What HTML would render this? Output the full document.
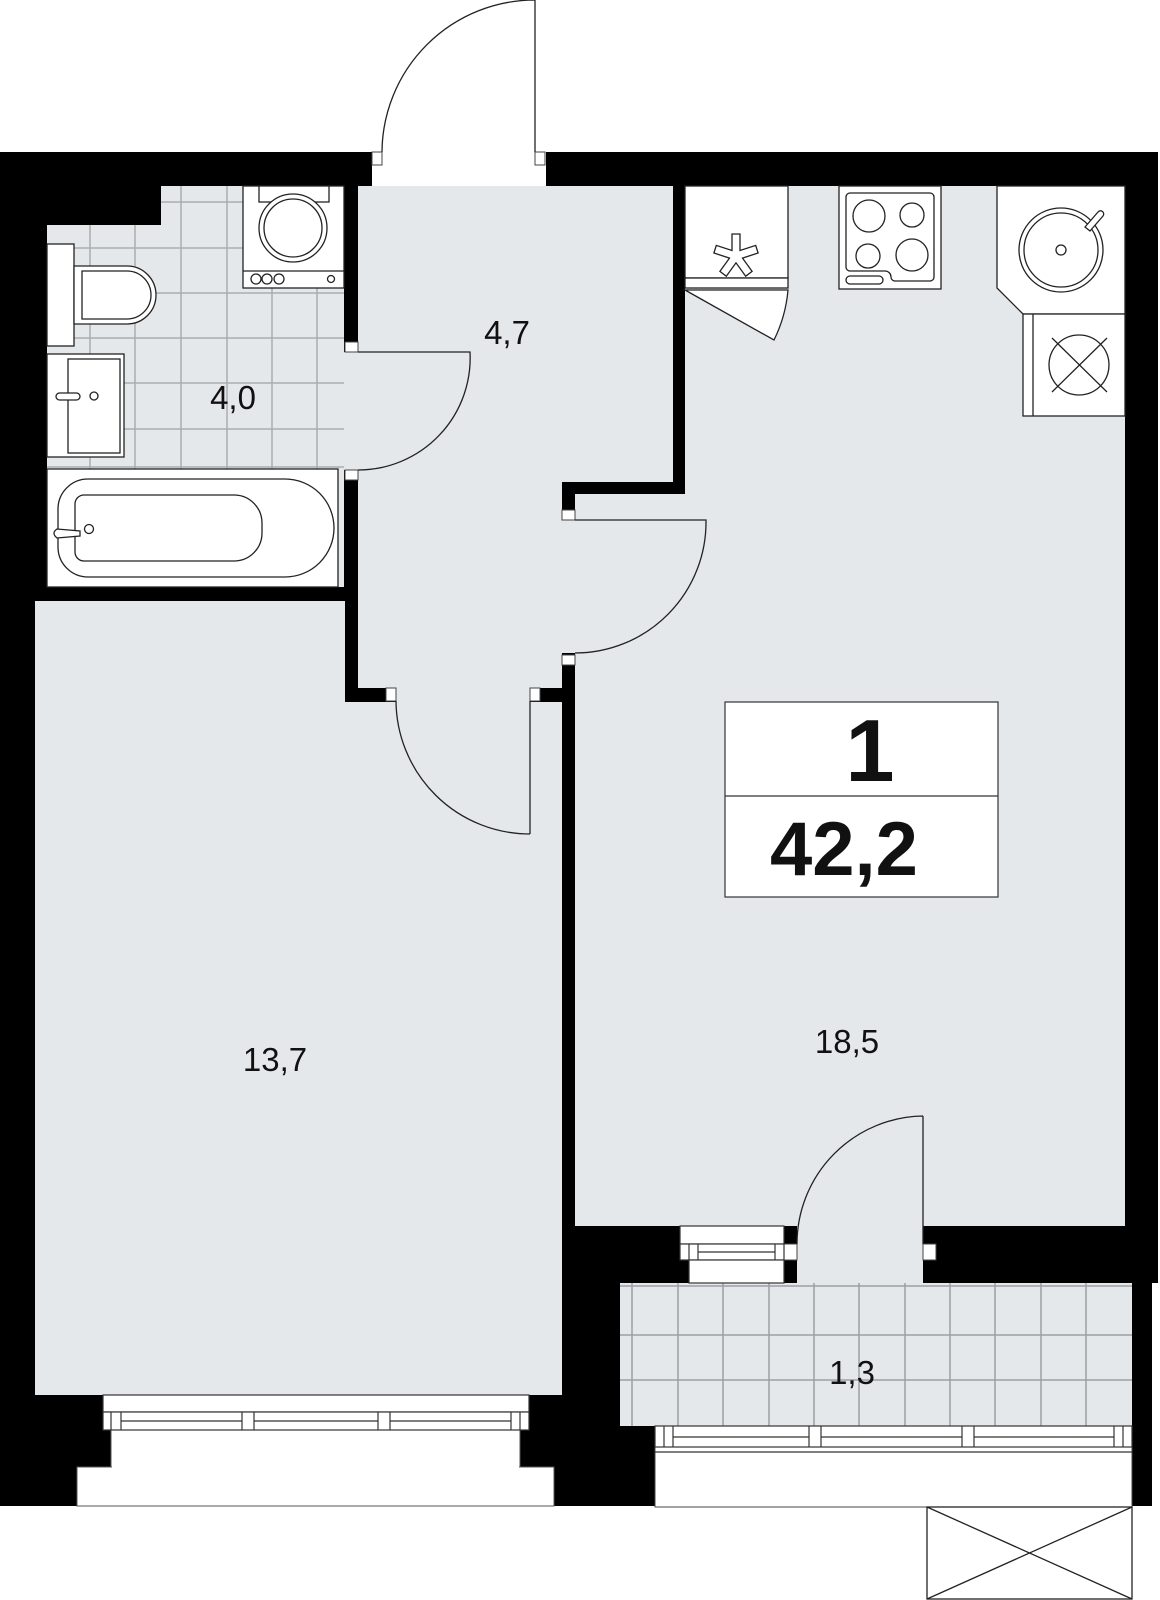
<!DOCTYPE html>
<html><head><meta charset="utf-8"><style>
html,body{margin:0;padding:0;background:#fff}
svg{display:block}
text{font-family:"Liberation Sans",sans-serif;fill:#111}
</style></head><body>
<svg width="1160" height="1600" viewBox="0 0 1160 1600" xmlns="http://www.w3.org/2000/svg">
<rect width="1160" height="1600" fill="#fff"/>
<rect x="0" y="152" width="1158" height="1354" fill="#000"/>
<rect x="1152" y="1283" width="8" height="230" fill="#fff"/>
<rect x="372" y="150" width="174" height="38" fill="#fff"/>
<rect x="111" y="1430" width="409" height="40" fill="#fff" stroke="#555" stroke-width="1"/>
<rect x="77" y="1467" width="477" height="39" fill="#fff" stroke="#555" stroke-width="1"/>
<rect x="112" y="1431" width="407" height="38" fill="#fff"/>
<rect x="655" y="1447" width="477" height="60" fill="#fff" stroke="#444" stroke-width="1"/>

<g fill="#e5e8eb">
<polygon points="161,186 344,186 344,587 47,587 47,225 161,225"/>
<polygon points="358,186 673,186 673,482 562,482 562,688 358,688"/>
<rect x="344" y="352" width="14" height="118"/>
<polygon points="35,601 345,601 345,702 562,702 562,1395 35,1395"/>
<rect x="396" y="686" width="134" height="18"/>
<polygon points="685,186 1125,186 1125,1226 575,1226 575,494 685,494"/>
<rect x="560" y="520" width="17" height="133"/>
<rect x="797" y="1224" width="126" height="60"/>
<rect x="620" y="1283" width="512" height="143"/>
</g>

<g stroke="#9a9ea3" stroke-width="1.5" opacity="0.8">
<line x1="90" y1="225" x2="90" y2="587"/><line x1="135" y1="225" x2="135" y2="587"/>
<line x1="181" y1="186" x2="181" y2="587"/><line x1="227" y1="186" x2="227" y2="587"/>
<line x1="272" y1="186" x2="272" y2="587"/><line x1="317" y1="186" x2="317" y2="587"/>
<line x1="161" y1="202" x2="344" y2="202"/><line x1="47" y1="248" x2="344" y2="248"/>
<line x1="47" y1="293" x2="344" y2="293"/><line x1="47" y1="338" x2="344" y2="338"/>
<line x1="47" y1="383" x2="344" y2="383"/><line x1="47" y1="429" x2="344" y2="429"/>
<line x1="47" y1="467" x2="344" y2="467"/>
</g>
<g stroke="#8a8e93" stroke-width="1.5" opacity="0.8">
<line x1="632" y1="1283" x2="632" y2="1426"/><line x1="678" y1="1283" x2="678" y2="1426"/>
<line x1="723" y1="1283" x2="723" y2="1426"/><line x1="769" y1="1283" x2="769" y2="1426"/>
<line x1="814" y1="1283" x2="814" y2="1426"/><line x1="859" y1="1283" x2="859" y2="1426"/>
<line x1="905" y1="1283" x2="905" y2="1426"/><line x1="950" y1="1283" x2="950" y2="1426"/>
<line x1="995" y1="1283" x2="995" y2="1426"/><line x1="1041" y1="1283" x2="1041" y2="1426"/>
<line x1="1086" y1="1283" x2="1086" y2="1426"/>
<line x1="620" y1="1286" x2="1132" y2="1286"/>
<line x1="620" y1="1335" x2="1132" y2="1335"/><line x1="620" y1="1380" x2="1132" y2="1380"/>
</g>

<g fill="#fff" stroke="#222" stroke-width="1.3">
<rect x="243" y="186" width="101" height="102"/>
<rect x="259" y="186" width="70" height="16"/>
<circle cx="293" cy="228" r="34"/><circle cx="293" cy="228" r="29"/>
<line x1="243" y1="271" x2="344" y2="271"/>
<circle cx="256" cy="279" r="5"/><circle cx="267" cy="279" r="5"/><circle cx="279" cy="279" r="5"/><circle cx="331" cy="279" r="3.5"/>
<rect x="47" y="244" width="27" height="102"/>
<path d="M74,266 H127 A29,29 0 0 1 127,324 H74 Z"/>
<path d="M82,271 H127 A24,24 0 0 1 127,319 H82 Z"/>
<rect x="47" y="354" width="77" height="103"/>
<rect x="68" y="359" width="52" height="94"/>
<rect x="56" y="393" width="24" height="7" rx="3.5"/>
<circle cx="94" cy="396" r="4"/>
<rect x="47" y="469" width="291" height="118"/>
<path d="M88,479 H285 A49,49 0 0 1 285,577 H88 A30,30 0 0 1 58,547 V509 A30,30 0 0 1 88,479 Z"/>
<path d="M84,495 H235 A28,28 0 0 1 262,523 V533 A28,28 0 0 1 235,561 H84 A9,9 0 0 1 75,552 V504 A9,9 0 0 1 84,495 Z"/>
<path d="M57,529 Q51,533 57,538 L80,536 V531 Z"/>
<circle cx="89" cy="529" r="4.5"/>
<rect x="685" y="186" width="103" height="92"/>
<rect x="685" y="278" width="103" height="10"/>
<path d="M685,290 L774,340 A140,140 0 0 0 788,290 Z"/>
<polygon points="732,234 740,234 740,250.5 755.7,245.4 758.1,253 742.5,258.1 752.1,271.4 745.7,276.2 736,262.8 726.3,276.2 719.9,271.4 729.5,258.1 713.9,253 716.3,245.4 732,250.5"/>
<rect x="839" y="186" width="102" height="103"/>
<path d="M850,193 H930 A4,4 0 0 1 934,197 V277 A4,4 0 0 1 930,281 H895 A4,4 0 0 1 891,277 A6,6 0 0 0 885,271 H850 A4,4 0 0 1 846,267 V197 A4,4 0 0 1 850,193 Z"/>
<circle cx="869" cy="216" r="16"/><circle cx="912" cy="215" r="12"/>
<circle cx="868" cy="256" r="12"/><circle cx="912" cy="255" r="16"/>
<rect x="846" y="276" width="37" height="8" rx="4"/>
<polygon points="997,186 1125,186 1125,314 1023,314 997,288"/>
<circle cx="1061" cy="250" r="42"/><circle cx="1061" cy="250" r="37"/>
<circle cx="1061" cy="250" r="5"/>
<path d="M1085,227 L1098,212 A3,3 0 0 1 1103,216 L1090,231 Z"/>
<rect x="1023" y="314" width="102" height="102"/>
<line x1="1033" y1="314" x2="1033" y2="416"/>
<circle cx="1079" cy="365" r="30"/>
<line x1="1052" y1="338" x2="1107" y2="392"/><line x1="1107" y1="338" x2="1052" y2="392"/>
</g>

<g fill="#fff" stroke="#444" stroke-width="1">
<rect x="372" y="152" width="10" height="13"/><rect x="535" y="152" width="10" height="13"/>
<rect x="345" y="342" width="13" height="10"/><rect x="345" y="470" width="13" height="10"/>
<rect x="386" y="688" width="10" height="13"/><rect x="530" y="688" width="10" height="13"/>
<rect x="562" y="510" width="13" height="10"/><rect x="562" y="655" width="13" height="10"/>
<rect x="784" y="1244" width="13" height="16"/><rect x="923" y="1244" width="13" height="16"/>
</g>
<g fill="none" stroke="#222" stroke-width="1.3">
<path d="M535,152 V0 M382,152 A153,153 0 0 1 535,0"/>
<path d="M358,352 H470 A112,112 0 0 1 358,470"/>
<path d="M530,701 V834 M396,701 A134,134 0 0 0 530,834"/>
<path d="M575,520 H706 A131,131 0 0 1 575,653"/>
<path d="M923,1244 V1116 M797,1244 A128,128 0 0 1 923,1116"/>
</g>

<g fill="#fff" stroke="#333" stroke-width="1.2">
<rect x="680" y="1226" width="104" height="18"/>
<rect x="680" y="1244" width="104" height="16"/>
<rect x="689" y="1260" width="95" height="23"/>
<line x1="689" y1="1244" x2="689" y2="1260"/><line x1="698" y1="1244" x2="698" y2="1260"/>
<line x1="775" y1="1244" x2="775" y2="1260"/><line x1="698" y1="1252" x2="775" y2="1252"/>
</g>
<g fill="#fff" stroke="#333" stroke-width="1.2">
<rect x="103" y="1395" width="426" height="17"/>
<rect x="103" y="1412" width="426" height="18"/>
<line x1="111" y1="1412" x2="111" y2="1430"/><line x1="121" y1="1412" x2="121" y2="1430"/>
<line x1="242" y1="1412" x2="242" y2="1430"/><line x1="254" y1="1412" x2="254" y2="1430"/>
<line x1="378" y1="1412" x2="378" y2="1430"/><line x1="390" y1="1412" x2="390" y2="1430"/>
<line x1="511" y1="1412" x2="511" y2="1430"/><line x1="520" y1="1412" x2="520" y2="1430"/>
<line x1="121" y1="1421" x2="242" y2="1421"/><line x1="254" y1="1421" x2="378" y2="1421"/><line x1="390" y1="1421" x2="511" y2="1421"/>
</g>
<g fill="#fff" stroke="#333" stroke-width="1.2">
<rect x="655" y="1426" width="477" height="21"/>
<line x1="655" y1="1452" x2="1132" y2="1452"/>
<line x1="664" y1="1426" x2="664" y2="1447"/><line x1="673" y1="1426" x2="673" y2="1447"/>
<line x1="809" y1="1426" x2="809" y2="1447"/><line x1="821" y1="1426" x2="821" y2="1447"/>
<line x1="962" y1="1426" x2="962" y2="1447"/><line x1="974" y1="1426" x2="974" y2="1447"/>
<line x1="1114" y1="1426" x2="1114" y2="1447"/><line x1="1123" y1="1426" x2="1123" y2="1447"/>
<line x1="673" y1="1437" x2="809" y2="1437"/><line x1="821" y1="1437" x2="962" y2="1437"/><line x1="974" y1="1437" x2="1114" y2="1437"/>
</g>
<g fill="none" stroke="#222" stroke-width="1.3">
<rect x="927" y="1507" width="205" height="92"/>
<line x1="927" y1="1507" x2="1132" y2="1599"/><line x1="1132" y1="1507" x2="927" y2="1599"/>
</g>

<rect x="725" y="702" width="273" height="195" fill="#fff" stroke="#333" stroke-width="1.2"/>
<line x1="725" y1="796" x2="998" y2="796" stroke="#333" stroke-width="1.2"/>
<text x="870" y="781" font-size="88" font-weight="bold" text-anchor="middle">1</text>
<text x="770" y="875" font-size="76" font-weight="bold">42,2</text>

<g font-size="33" text-anchor="middle">
<text x="507" y="344">4,7</text>
<text x="233" y="409">4,0</text>
<text x="275" y="1071">13,7</text>
<text x="847" y="1053">18,5</text>
<text x="852" y="1384">1,3</text>
</g>
</svg>
</body></html>
